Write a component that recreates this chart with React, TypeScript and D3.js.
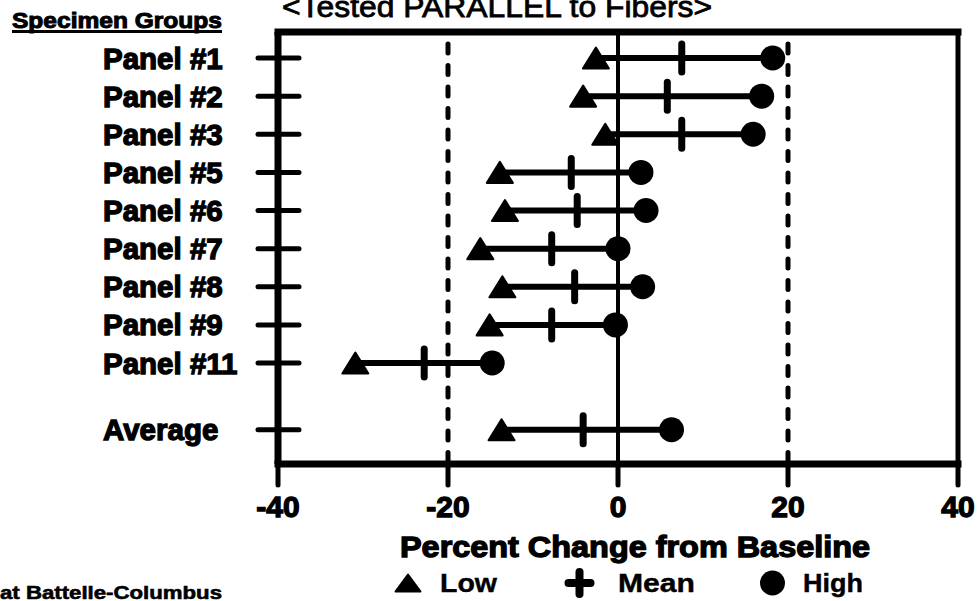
import React from "react";
import * as d3 from "d3";

// Specimen groups and their percent change from baseline
const groups = [
  "Panel #1",
  "Panel #2",
  "Panel #3",
  "Panel #5",
  "Panel #6",
  "Panel #7",
  "Panel #8",
  "Panel #9",
  "Panel #11",
  "Average",
];
const lowValues = [-2.6, -4.1, -1.5, -13.9, -13.3, -16.2, -13.6, -15.1, -30.9, -13.7];
const meanValues = [7.5, 5.8, 7.5, -5.5, -4.8, -7.8, -5.1, -7.8, -22.8, -4.1];
const highValues = [18.2, 16.9, 15.9, 2.7, 3.3, 0.0, 2.9, -0.3, -14.8, 6.3];

const xTicks = [-40, -20, 0, 20, 40];
const refLines = [-20, 20];
const legendLabels = ["Low", "Mean", "High"];

const W = 977;
const H = 601;
const FONT = "'Liberation Sans', Arial, Helvetica, sans-serif";
const AVG_GAP = 1.75; // extra spacing before the summary row

const x = d3.scaleLinear().domain([-40, 40]).range([278, 958]);
const y = d3.scaleLinear().domain([0, 8]).range([58, 363]);

const slot = (i: number) => (i < groups.length - 1 ? i : i - 1 + AVG_GAP);

const plotTop = 32;
const plotBottom = 464;

function Triangle({ cx, cy, w, h }: { cx: number; cy: number; w: number; h: number }) {
  const p = d3.path();
  p.moveTo(cx, cy - h / 2);
  p.lineTo(cx + w / 2, cy + h / 2);
  p.lineTo(cx - w / 2, cy + h / 2);
  p.closePath();
  return <path d={p.toString()} fill="#000" stroke="#000" strokeWidth={2} strokeLinejoin="round" />;
}

function Plus({ cx, cy, s }: { cx: number; cy: number; s: number }) {
  return (
    <g stroke="#000" strokeWidth={8} strokeLinecap="round">
      <line x1={cx - s / 2} x2={cx + s / 2} y1={cy} y2={cy} />
      <line x1={cx} x2={cx} y1={cy - s / 2} y2={cy + s / 2} />
    </g>
  );
}

export default function App() {
  const heavy = { fontFamily: FONT, fontWeight: 700, fill: "#000", stroke: "#000", strokeWidth: 1.3 } as const;

  const legendX = [395, 567, 760];
  const legendTextX = [440, 618, 803];
  const legendTextLen = [57, 77, 60];
  const legendY = 583;

  return (
    <svg
      width={W}
      height={H}
      viewBox={`0 0 ${W} ${H}`}
      style={{ position: "absolute", left: 0, top: 0, display: "block", background: "#fff" }}
    >
      <rect x={0} y={0} width={W} height={H} fill="#fff" />

      {/* heading */}
      <text x={497} y={17} textAnchor="middle" fontFamily={FONT} fontSize={30} fill="#000" stroke="#000" strokeWidth={0.8} textLength={430} lengthAdjust="spacingAndGlyphs">
        {"<Tested PARALLEL to Fibers>"}
      </text>
      <text x={12} y={28} {...heavy} strokeWidth={1} fontSize={22} textLength={210} lengthAdjust="spacingAndGlyphs">
        Specimen Groups
      </text>
      <line x1={12} x2={222} y1={31.5} y2={31.5} stroke="#000" strokeWidth={3} />

      {/* reference lines at ±20 */}
      {refLines.map((v) => (
        <line
          key={v}
          x1={x(v)}
          x2={x(v)}
          y1={plotTop + 12}
          y2={plotBottom - 4}
          stroke="#000"
          strokeWidth={5}
          strokeDasharray="9 12.5"
          strokeLinecap="round"
        />
      ))}

      {/* zero line */}
      <line x1={x(0)} x2={x(0)} y1={plotTop} y2={plotBottom} stroke="#000" strokeWidth={4} />

      {/* frame */}
      <line x1={x(-40)} x2={x(40)} y1={plotTop} y2={plotTop} stroke="#000" strokeWidth={7} strokeLinecap="square" />
      <line x1={x(-40)} x2={x(40)} y1={plotBottom} y2={plotBottom} stroke="#000" strokeWidth={7} strokeLinecap="square" />
      <line x1={x(-40)} x2={x(-40)} y1={plotTop} y2={plotBottom} stroke="#000" strokeWidth={7} />
      <line x1={x(40)} x2={x(40)} y1={plotTop} y2={plotBottom} stroke="#000" strokeWidth={5} />

      {/* x axis ticks and labels */}
      {xTicks.map((t) => (
        <g key={t}>
          <line x1={x(t)} x2={x(t)} y1={plotBottom} y2={plotBottom + 21} stroke="#000" strokeWidth={5} strokeLinecap="round" />
          <text x={x(t)} y={517} textAnchor="middle" {...heavy} fontSize={30}>
            {t}
          </text>
        </g>
      ))}

      {/* group labels and left ticks */}
      {groups.map((g, i) => {
        const cy = y(slot(i));
        return (
          <g key={g}>
            <line x1={x(-40) - 20} x2={x(-40) + 21} y1={cy} y2={cy} stroke="#000" strokeWidth={5} strokeLinecap="round" />
            <text x={103} y={cy + 10.5} {...heavy} fontSize={29.5}>
              {g}
            </text>
          </g>
        );
      })}

      {/* low–high ranges */}
      {groups.map((g, i) => {
        const cy = y(slot(i));
        return (
          <g key={`r-${g}`}>
            <line x1={x(lowValues[i])} x2={x(highValues[i])} y1={cy} y2={cy} stroke="#000" strokeWidth={6} />
            <line x1={x(meanValues[i])} x2={x(meanValues[i])} y1={cy - 14} y2={cy + 14} stroke="#000" strokeWidth={7} strokeLinecap="round" />
            <Triangle cx={x(lowValues[i])} cy={cy} w={26} h={21} />
            <circle cx={x(highValues[i])} cy={cy} r={12.5} fill="#000" />
          </g>
        );
      })}

      {/* axis title */}
      <text x={635} y={557} textAnchor="middle" {...heavy} fontSize={30} textLength={470} lengthAdjust="spacingAndGlyphs">
        Percent Change from Baseline
      </text>

      {/* legend */}
      <Triangle cx={legendX[0] + 13} cy={legendY} w={25} h={17} />
      <Plus cx={legendX[1] + 12.5} cy={legendY} s={22} />
      <circle cx={legendX[2] + 12.5} cy={legendY} r={12.5} fill="#000" />
      {legendLabels.map((l, i) => (
        <text key={l} x={legendTextX[i]} y={592} fontFamily={FONT} fontWeight={700} fontSize={26} fill="#000" stroke="#000" strokeWidth={0.4} textLength={legendTextLen[i]} lengthAdjust="spacingAndGlyphs">
          {l}
        </text>
      ))}

      <text x={0} y={599} {...heavy} strokeWidth={0.6} fontSize={19} textLength={222} lengthAdjust="spacingAndGlyphs">
        at Battelle-Columbus
      </text>
    </svg>
  );
}
